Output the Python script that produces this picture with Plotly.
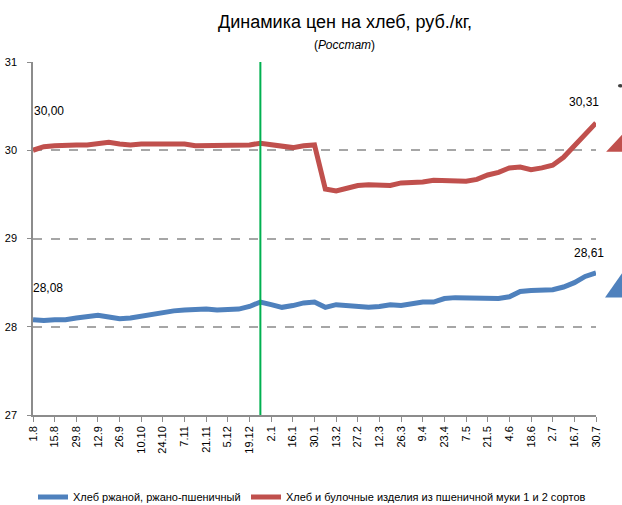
import plotly.graph_objects as go

# weekly observation dates (1 Aug - 30 Jul)
weeks = ["1.8", "8.8", "15.8", "22.8", "29.8", "5.9", "12.9", "19.9", "26.9",
         "3.10", "10.10", "17.10", "24.10", "31.10", "7.11", "14.11", "21.11",
         "28.11", "5.12", "12.12", "19.12", "26.12", "2.1", "9.1", "16.1",
         "23.1", "30.1", "6.2", "13.2", "20.2", "27.2", "5.3", "12.3", "19.3",
         "26.3", "2.4", "9.4", "16.4", "23.4", "30.4", "7.5", "14.5", "21.5",
         "28.5", "4.6", "11.6", "18.6", "25.6", "2.7", "9.7", "16.7", "23.7",
         "30.7"]

rye = [28.08, 28.07, 28.08, 28.08, 28.10, 28.12, 28.13, 28.11, 28.09, 28.10,
       28.12, 28.15, 28.17, 28.18, 28.19, 28.20, 28.20, 28.19, 28.19, 28.20,
       28.23, 28.28, 28.25, 28.22, 28.24, 28.27, 28.28, 28.22, 28.25, 28.24,
       28.23, 28.22, 28.23, 28.25, 28.24, 28.26, 28.28, 28.28, 28.32, 28.33,
       28.33, 28.33, 28.32, 28.32, 28.34, 28.40, 28.41, 28.42, 28.42, 28.45,
       28.50, 28.57, 28.61]

wheat = [30.00, 30.04, 30.05, 30.06, 30.06, 30.06, 30.07, 30.09, 30.07, 30.06,
         30.07, 30.07, 30.07, 30.06, 30.07, 30.05, 30.05, 30.05, 30.05, 30.05,
         30.06, 30.08, 30.06, 30.04, 30.03, 30.05, 30.06, 29.56, 29.54, 29.57,
         29.60, 29.61, 29.60, 29.60, 29.63, 29.63, 29.64, 29.66, 29.66, 29.66,
         29.65, 29.67, 29.72, 29.75, 29.80, 29.81, 29.78, 29.80, 29.83, 29.92,
         30.05, 30.20, 30.31]

marker_week = "26.12"  # green vertical line
tick_labels = weeks[::2]

x = list(range(len(weeks)))
blue = "#4F81BD"
red = "#C0504D"
grey = "#8C8C8C"
font = "Liberation Sans"

fig = go.Figure()
fig.add_trace(go.Scatter(x=x, y=rye, mode="lines", name="Хлеб ржаной, ржано-пшеничный",
                         line=dict(color=blue, width=5), legend="legend"))
fig.add_trace(go.Scatter(x=x, y=wheat, mode="lines",
                         name="Хлеб и булочные изделия из пшеничной муки 1 и 2 сортов",
                         line=dict(color=red, width=5), legend="legend2"))

gx = weeks.index(marker_week)
fig.add_shape(type="line", x0=gx, x1=gx, y0=0, y1=1, yref="paper",
              line=dict(color="#00B050", width=2))

# first / last value labels
lab_font = dict(family=font, size=12, color="#000")
for xi, yi, xs, ys in [(0, rye[0], 15, 32), (0, wheat[0], 16, 39),
                       (len(x) - 1, rye[-1], -7, 20), (len(x) - 1, wheat[-1], -12, 21)]:
    fig.add_annotation(x=xi, y=yi, text=f"{yi:.2f}".replace(".", ","),
                       showarrow=False, xshift=xs, yshift=ys, font=lab_font,
                       xanchor="center", yanchor="middle")

# decorative triangles cut off at the right edge
fig.add_shape(type="path", xref="paper", yref="paper",
              path="M 1.018 0.746 L 1.05 0.746 L 1.05 0.80 Z",
              fillcolor=red, line=dict(width=0))
fig.add_shape(type="path", xref="paper", yref="paper",
              path="M 1.016 0.333 L 1.05 0.333 L 1.05 0.41 Z",
              fillcolor=blue, line=dict(width=0))
fig.add_shape(type="circle", xref="paper", yref="paper",
              x0=1.039, x1=1.047, y0=0.928, y1=0.938,
              fillcolor="#404040", line=dict(width=0))

# title and source
fig.add_annotation(text="Динамика цен на хлеб, руб./кг,", xref="paper", yref="paper",
                   x=(345 - 33) / 563, y=1.0 + (62 - 22) / 353, showarrow=False,
                   xanchor="center", yanchor="middle",
                   font=dict(family=font, size=18, color="#000"))
fig.add_annotation(text="(<i>Росстат</i>)", xref="paper", yref="paper",
                   x=(344 - 33) / 563, y=1.0 + (62 - 45) / 353, showarrow=False,
                   xanchor="center", yanchor="middle",
                   font=dict(family=font, size=12, color="#000"))

leg = dict(orientation="h", xref="container", yref="container",
           xanchor="left", y=8 / 505, yanchor="middle",
           font=dict(family=font, size=11, color="#000"),
           bgcolor="rgba(0,0,0,0)")

fig.update_layout(
    width=622, height=505,
    margin=dict(l=33, r=26, t=62, b=90, autoexpand=False),
    paper_bgcolor="white", plot_bgcolor="white",
    showlegend=True,
    legend=dict(leg, x=33 / 622),
    legend2=dict(leg, x=246 / 622),
)
fig.update_xaxes(range=[0, len(x) - 1], tickmode="array", tickvals=x[::2],
                 ticktext=tick_labels, tickangle=-90, ticks="outside", ticklen=5,
                 tickcolor=grey, showline=True, linecolor=grey, linewidth=1.5,
                 showgrid=False, zeroline=False, automargin=False,
                 tickfont=dict(family=font, size=11, color="#000"))
fig.update_yaxes(range=[27, 31], dtick=1, ticks="outside", ticklen=4,
                 tickcolor=grey, showline=True, linecolor=grey, linewidth=1.5,
                 showgrid=True, gridcolor="#A6A6A6", griddash="dash", gridwidth=1.5,
                 zeroline=False, automargin=False, ticklabelstandoff=8,
                 tickfont=dict(family=font, size=11, color="#000"))

# the page body has a default 8px margin; drop it so the figure fills the window
fig.write_html("out.html", config={"displayModeBar": False},
               post_script="document.body.style.margin='0';")
